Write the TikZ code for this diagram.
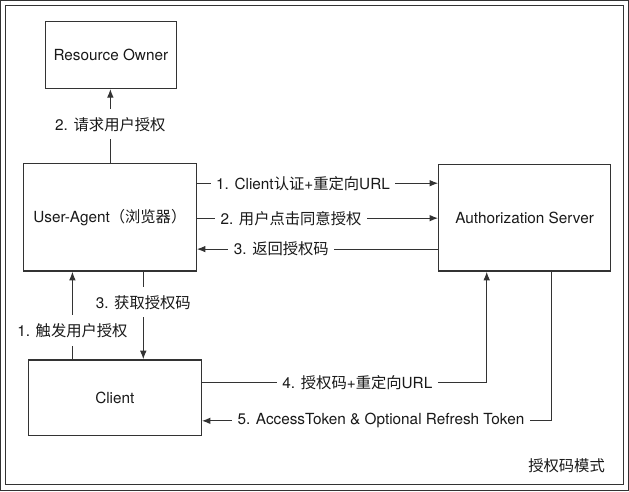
\documentclass[tikz,border=0pt]{standalone}
\usepackage{fontspec}
\setmainfont{TeX Gyre Heros}
\newfontfamily\cjk{Noto Sans CJK SC}
\newcommand{\zh}[1]{{\cjk #1}}
\usetikzlibrary{arrows.meta}
\definecolor{linegray}{gray}{0.2}
\definecolor{textgray}{gray}{0.1}

\begin{document}
\begin{tikzpicture}[x=0.75pt,y=-0.75pt,>={Latex[length=6.5pt,width=5pt]},
  every node/.style={font=\fontsize{11.5}{14}\selectfont,text=textgray},
  box/.style={draw=linegray,line width=0.95pt},
  lbl/.style={fill=white,inner xsep=4pt,inner ysep=6pt},
  every path/.style={draw=linegray,line width=0.8pt}]
\useasboundingbox (0,0) rectangle (629,491);
\draw[line width=0.95pt] (5,5) rectangle (624,485);
\node[box,minimum width=98.25pt,minimum height=50.25pt] (owner) at (110.5,54.5) {Resource Owner};
\node[box,minimum width=129.75pt,minimum height=81pt] (agent) at (109.5,217) {User-Agent\zh{（浏览器）}};
\node[box,minimum width=129pt,minimum height=80.25pt] (server) at (525,217.5) {Authorization Server};
\node[box,minimum width=129.75pt,minimum height=57pt] (client) at (114.5,398) {Client};
\node (mode) at (567,466) {\zh{授权码模式}};
% user-agent <-> resource owner
\draw[->] (agent.north -| 110,0) -- node[lbl,pos=.52] {2. \zh{请求用户授权}} (owner.south -| 110,0);
% user-agent <-> authorization server
\draw[->] (agent.east |- 0,183) -- node[lbl,pos=.44] {1. Client\zh{认证}+\zh{重定向}URL} (server.west |- 0,183);
\draw[->] (agent.east |- 0,218) -- node[lbl,pos=.39] {2. \zh{用户点击同意授权}} (server.west |- 0,218);
\draw[->] (server.west |- 0,249) -- node[lbl,pos=.65] {3. \zh{返回授权码}} (agent.east |- 0,249);
% client <-> user-agent
\draw[->] (client.north -| 72,0) -- node[lbl,pos=.33] {1. \zh{触发用户授权}} (agent.south -| 72,0);
\draw[->] (agent.south -| 143,0) -- node[lbl,pos=.35] {3. \zh{获取授权码}} (client.north -| 143,0);
% client <-> authorization server
\draw[->] (client.east |- 0,383) -| node[lbl,pos=.273] {4. \zh{授权码}+\zh{重定向}URL} (server.south -| 487,0);
\draw[->] (server.south -| 552,0) |- node[lbl,pos=.744] {5. AccessToken \& Optional Refresh Token} (client.east |- 0,421);
\end{tikzpicture}
\end{document}
